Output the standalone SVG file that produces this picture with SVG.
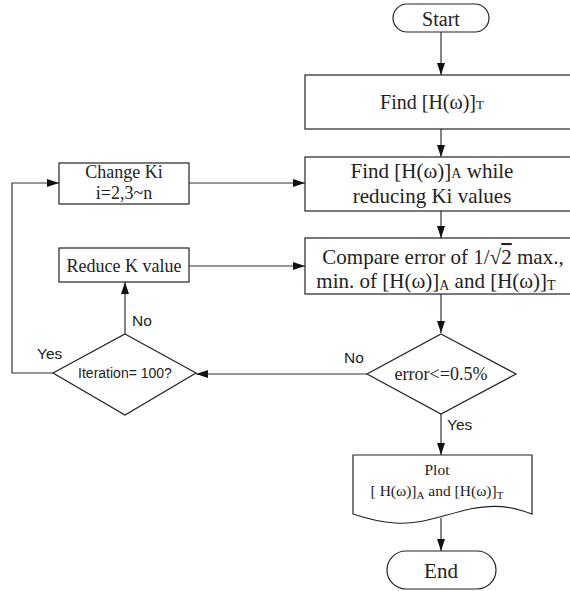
<svg xmlns="http://www.w3.org/2000/svg" width="570" height="591" viewBox="0 0 570 591">
<style>
.s{fill:#fff;stroke:#222;stroke-width:1.2}
.c{fill:none;stroke:#333;stroke-width:1.2}
.t{font-family:"Liberation Serif","Times New Roman",serif;fill:#222;text-anchor:middle}
.a{font-family:"Liberation Sans",Arial,sans-serif;fill:#222}
</style>
<defs>
<marker id="ah" viewBox="0 0 12 8" refX="12" refY="4" markerWidth="12" markerHeight="8" markerUnits="userSpaceOnUse" orient="auto">
<path d="M0,0 L12,4 L0,8 Z" fill="#111"/>
</marker>
</defs>
<g id="connectors">
<path class="c" d="M441,32 V75" marker-end="url(#ah)"/>
<path class="c" d="M441,129 V157" marker-end="url(#ah)"/>
<path class="c" d="M441,211 V238" marker-end="url(#ah)"/>
<path class="c" d="M441,294 V333" marker-end="url(#ah)"/>
<path class="c" d="M441,414 V455" marker-end="url(#ah)"/>
<path class="c" d="M441,518 V551" marker-end="url(#ah)"/>
<path class="c" d="M189,183 H305" marker-end="url(#ah)"/>
<path class="c" d="M189,266 H305" marker-end="url(#ah)"/>
<path class="c" d="M125,334 V282" marker-end="url(#ah)"/>
<path class="c" d="M53,373 H12 V183 H59" marker-end="url(#ah)"/>
<path class="c" d="M367,374 H196" marker-end="url(#ah)"/>
<text class="a" x="344" y="363" font-size="15.5">No</text>
<text class="a" x="447" y="430" font-size="15.5">Yes</text>
<text class="a" x="37" y="359" font-size="15.5">Yes</text>
<text class="a" x="132" y="326" font-size="15.5">No</text>
</g>
<g id="start">
<rect class="s" x="393" y="4" width="96" height="28" rx="14"/>
<text class="t" x="441" y="26" font-size="20">Start</text>
</g>
<g id="findT">
<rect class="s" x="305" y="75" width="272" height="54"/>
<text class="t" x="432" y="109" font-size="20">Find [H(ω)]<tspan font-size="13">T</tspan></text>
</g>
<g id="findA">
<rect class="s" x="305" y="157" width="272" height="54"/>
<text class="t" x="432" y="178" font-size="21">Find [H(ω)]<tspan font-size="14">A</tspan> while</text>
<text class="t" x="432" y="203" font-size="21">reducing Ki values</text>
</g>
<g id="compare">
<rect class="s" x="305" y="238" width="272" height="56"/>
<text class="t" x="443" y="264" font-size="21">Compare error of 1/<tspan font-size="21">√</tspan><tspan text-decoration="overline">2</tspan> max.,</text>
<text class="t" x="436" y="288" font-size="21">min. of [H(ω)]<tspan font-size="14" dy="2">A</tspan><tspan dy="-2"> and [H(ω)]</tspan><tspan font-size="14" dy="2">T</tspan></text>
</g>
<g id="changeKi">
<rect class="s" x="59" y="163" width="130" height="41"/>
<text class="t" x="124" y="178" font-size="18">Change Ki</text>
<text class="t" x="124" y="199" font-size="18">i=2,3~n</text>
</g>
<g id="reduceK">
<rect class="s" x="59" y="248" width="130" height="34"/>
<text class="t" x="124" y="272" font-size="18">Reduce K value</text>
</g>
<g id="iteration">
<path class="s" d="M125,334 L196,373 L125,415 L53,373 Z"/>
<text class="a" x="125" y="378" font-size="14" text-anchor="middle">Iteration= 100?</text>
</g>
<g id="error">
<path class="s" d="M441,334 L516,374 L441,414 L367,374 Z"/>
<text class="t" x="441" y="380" font-size="18">error&lt;=0.5%</text>
</g>
<g id="plot">
<path class="s" d="M353,455 H532 V514 C510,506 495,504 470,509 C440,516 420,525 395,523 C378,522 365,518 353,514 Z"/>
<text class="t" x="437" y="475" font-size="15.5">Plot</text>
<text class="t" x="437" y="496" font-size="15.5">[ H(ω)]<tspan font-size="11" dy="3">A</tspan><tspan dy="-3"> and [H(ω)]</tspan><tspan font-size="11" dy="3">T</tspan></text>
</g>
<g id="end">
<rect class="s" x="387" y="551" width="109" height="38" rx="19"/>
<text class="t" x="441" y="578" font-size="21">End</text>
</g>
</svg>
